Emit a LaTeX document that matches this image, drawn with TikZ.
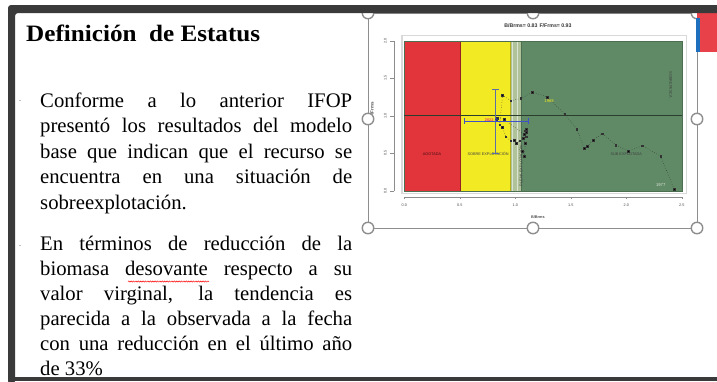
\documentclass[tikz,border=0pt]{standalone}
\usepackage{fontspec}
\setmainfont{Liberation Serif}
\newfontfamily\plotfont{Liberation Sans}
\usepackage{graphicx}
\usetikzlibrary{plotmarks,decorations.pathmorphing}
\definecolor{zred}{HTML}{E2343B}
\definecolor{zyel}{HTML}{F2EA22}
\definecolor{zgreen}{HTML}{5F8A65}
\definecolor{zband}{HTML}{AFC29A}
\definecolor{framec}{HTML}{3A3A3A}
\definecolor{hgray}{HTML}{8E8E8E}
\definecolor{ebar}{HTML}{5A6FA8}
\definecolor{hbar}{HTML}{3F51C8}
\definecolor{tabred}{HTML}{E8414A}
\definecolor{tabblue}{HTML}{1F6FBF}
\newcommand\myjust[1]{\makebox[312pt][s]{#1}}
\tikzset{
  body/.style={font=\fontsize{20.7}{25}\selectfont, inner sep=0pt, anchor=base west, text=black},
  ttl/.style={font=\fontsize{23.5}{28}\selectfont\bfseries, inner sep=0pt, anchor=base west},
  tick/.style={font=\plotfont\fontsize{3.8}{4}\selectfont, text=black!70, inner sep=0pt},
  zlab/.style={font=\plotfont\fontsize{3.8}{4}\selectfont, text=black!75, inner sep=0pt},
  handle/.style={circle, draw=hgray, line width=1.4pt, fill=white, minimum size=11.5pt, inner sep=0pt},
}
\begin{document}
\begin{tikzpicture}[x=1pt,y=-1pt]
\useasboundingbox (0,0) rectangle (717,381);
\fill[white] (0,0) rectangle (717,381);

% ---------- chart ----------
\begin{scope}[shift={(404.3,190.7)},x=111pt,y=75pt]
  \draw[black!15,line width=1.2pt] (-0.02,-0.035) rectangle (2.545,2.065);
  \fill[zred] (0,0) rectangle (0.5,2);
  \fill[zyel] (0.5,0) rectangle (0.95,2);
  \fill[zband] (0.95,0) rectangle (1.05,2);
  \fill[zgreen] (1.05,0) rectangle (2.5,2);
  \draw[white!55!zband,line width=0.8pt] (0.975,0) -- (0.975,2) (1.02,0) -- (1.02,2);
  \draw[black!35!zred,line width=0.3pt] (0.5,0) -- (0.5,2);
  \draw[black!25!zyel,line width=0.3pt] (0.95,0) -- (0.95,2);
  \draw[black!20!zgreen,line width=0.3pt] (1.05,0) -- (1.05,2);
  \draw[black!20!zgreen,line width=0.4pt] (0,0) rectangle (2.5,2);
  \draw[black!55!zgreen,line width=0.9pt] (0,1) -- (2.5,1);
  % axes
  \draw[black!45,line width=0.4pt] (-0.093,0) -- (-0.093,2);
  \foreach \v/\t in {0/0.0,0.5/0.5,1/1.0,1.5/1.5,2/2.0}{
    \draw[black!45,line width=0.4pt] (-0.093,\v) -- (-0.125,\v);
    \node[tick,rotate=90] at (-0.172,\v) {\t};
  }
  \draw[black!45,line width=0.4pt] (0,-0.084) -- (2.5,-0.084);
  \foreach \v/\t in {0/0.0,0.5/0.5,1/1.0,1.5/1.5,2/2.0,2.5/2.5}{
    \draw[black!45,line width=0.4pt] (\v,-0.084) -- (\v,-0.115);
    \node[tick] at (\v,-0.197) {\t};
  }
  \node[tick,font=\plotfont\bfseries\fontsize{3.8}{4}\selectfont] at (1.204,-0.347) {B/Brms};
  \node[tick,rotate=90,font=\plotfont\bfseries\fontsize{4.5}{5}\selectfont] at (-0.29,1.08) {F/Frms};
  \node[font=\plotfont\bfseries\fontsize{5.2}{6}\selectfont,inner sep=0pt,text=black!80] at (1.204,2.196) {B/Brms= 0.83\hspace{0.4em}F/Frms= 0.93};
  % zone labels
  \node[zlab,text=black!70!zred] at (0.25,0.49) {AGOTADA};
  \node[zlab] at (0.755,0.49) {SOBRE EXPLOTACIÓN};
  \node[zlab] at (2.0,0.49) {SUB EXPLOTADA};
  \node[zlab,rotate=90] at (1.05,0.33) {PLENA EXPLOTACIÓN};
  \node[zlab,rotate=-90] at (2.4,1.41) {SOBREPESCA};
  % trajectory
  \draw[black!80,dotted,line width=0.5pt] plot[mark=square*,mark size=0.8pt,mark options={solid,fill=black}] coordinates {
    (2.43,0.02) (2.31,0.46) (2.145,0.60) (2.02,0.53) (1.905,0.61) (1.785,0.76)
    (1.70,0.675) (1.65,0.59) (1.62,0.565) (1.555,0.82) (1.445,1.02) (1.29,1.25)
    (1.155,1.315) (1.05,1.23) (0.96,1.20) (0.885,1.275) (0.86,0.88) (0.885,0.85)
    (0.915,0.72) (0.96,0.665) (0.99,0.675) (1.01,0.63) (1.04,0.665) (1.06,0.53)
    (1.08,0.46) (1.09,0.63) (1.07,0.70) (1.10,0.72) (1.10,0.78) (1.09,0.80)
    (1.10,0.82) (1.08,0.75) (0.90,0.95) (0.84,0.97) (0.83,0.95)};
  % error bars
  \draw[ebar,line width=0.9pt] (0.82,0.5) -- (0.82,1.35)
     (0.79,0.5) -- (0.85,0.5) (0.79,1.35) -- (0.85,1.35);
  \draw[hbar,line width=0.9pt] (0.54,0.93) -- (1.12,0.93)
     (0.54,0.89) -- (0.54,0.97) (1.12,0.89) -- (1.12,0.97);
  \node[font=\plotfont\bfseries\fontsize{3.8}{4}\selectfont,text=tabred!80!magenta,inner sep=0pt] at (0.765,0.935) {2022};
  \fill[hbar!70!black] (0.83,0.95) circle (1.4pt);
  \node[font=\plotfont\fontsize{4.2}{5}\selectfont,text=zyel,inner sep=0pt] at (1.305,1.19) {1968};
  \node[font=\plotfont\fontsize{4.2}{5}\selectfont,text=white!80!zgreen,inner sep=0pt] at (2.31,0.07) {1977};
\end{scope}

% ---------- selection frame and handles ----------
\draw[hgray,line width=0.8pt] (368,13) rectangle (697,228);
\node[handle] (h1) at (368,13) {};
\node[handle] (h2) at (533,13) {};
\node[handle] (h3) at (697,13) {};
\node[handle] (h4) at (368,119) {};
\node[handle] (h5) at (697,119) {};
\node[handle] (h6) at (368,228) {};
\node[handle] (h7) at (533,228) {};
\node[handle] (h8) at (697,228) {};

% right tab
\fill[tabred] (697,13) rectangle (717,52);
\fill[tabblue] (696,18) rectangle (699.5,52);

% ---------- outer dark frame ----------
\fill[framec,rounded corners=3pt] (8,384) -- (8,5) -- (720,5) -- (720,13) -- (15,13) -- (15,384) -- cycle;
\fill[framec] (8,377) rectangle (717,381);

% bullet remnants
\draw[black!25,line width=0.6pt] (19,100) -- (21,100);
\draw[black!25,line width=0.6pt] (19,245) -- (21,245);

% ---------- text ----------
\node[ttl] (title) at (26,41.5) {\scalebox{1.07}[1]{Definición\ \ de Estatus}};

\node[body] (a1) at (40,107) {\myjust{Conforme a lo anterior IFOP}};
\node[body] (a2) at (40,132.5) {\myjust{presentó los resultados del modelo}};
\node[body] (a3) at (40,158) {\myjust{base que indican que el recurso se}};
\node[body] (a4) at (40,183.5) {\myjust{encuentra en una situación de}};
\node[body] (a5) at (40,209) {sobreexplotación.};

\node[body] (b1) at (40,250) {\myjust{En términos de reducción de la}};
\node[body] (b2) at (40,275.5) {\myjust{biomasa desovante respecto a su}};
\node[body] (b3) at (40,300.5) {\myjust{valor virginal, la tendencia es}};
\node[body] (b4) at (40,325.5) {\myjust{parecida a la observada a la fecha}};
\node[body] (b5) at (40,350.5) {\myjust{con una reducción en el último año}};
\node[body] (b6) at (40,375) {de 33\%};

\draw[red,line width=0.5pt,decorate,decoration={snake,amplitude=0.6pt,segment length=2.4pt}] (128,281.5) -- (209,281.5);
\end{tikzpicture}
\end{document}
